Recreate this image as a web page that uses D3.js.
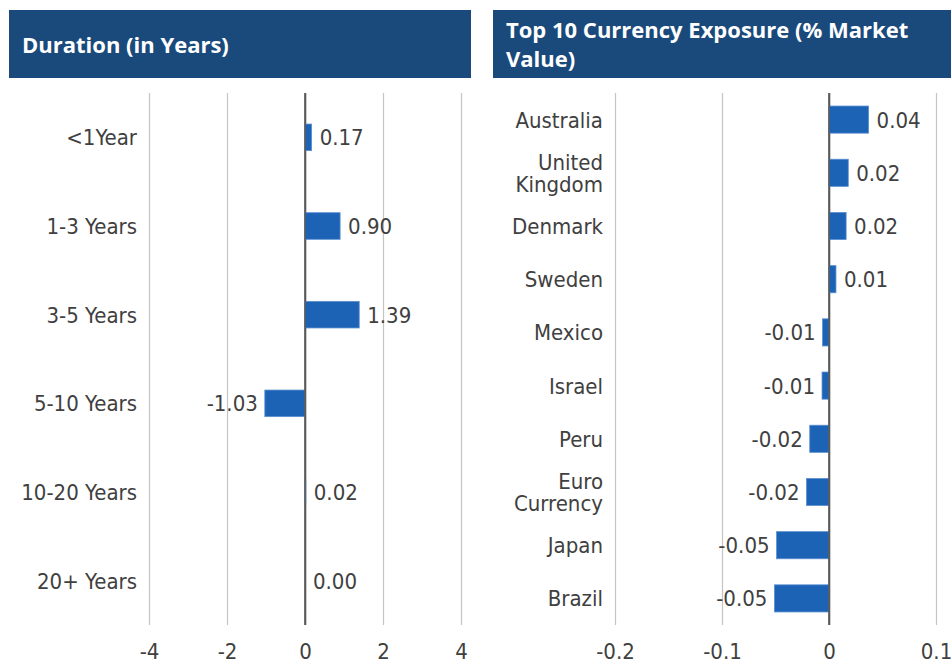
<!DOCTYPE html>
<html>
<head>
<meta charset="utf-8">
<script src="https://cdn.jsdelivr.net/npm/d3@7"></script>
<style>
  body { margin: 0; background: #fff; }
  svg text { font-family: "Liberation Sans Narrow", "DejaVu Sans Condensed", sans-serif; fill: #404040; }
  .title { font-family: "Open Sans", "Noto Sans", sans-serif !important; font-weight: bold; fill: #fff !important; }
</style>
</head>
<body>
<script>
// duration buckets
const durationCats = ["<1Year", "1-3 Years", "3-5 Years", "5-10 Years", "10-20 Years", "20+ Years"];
const durationVals = [0.17, 0.90, 1.39, -1.03, 0.02, 0.00];
const durationTicks = [-4, -2, 0, 2, 4];

// currency exposure
const currencyCats = ["Australia", "United Kingdom", "Denmark", "Sweden", "Mexico", "Israel", "Peru", "Euro Currency", "Japan", "Brazil"];
const currencyVals = [0.037, 0.018, 0.016, 0.0065, -0.006, -0.0065, -0.018, -0.021, -0.049, -0.051];
const currencyTicks = [-0.2, -0.1, 0, 0.1];

const barColor = "#1c63b6";
const headColor = "#1a4a7b";

const svg = d3.select("body").append("svg")
    .attr("width", 951)
    .attr("height", 663);

function panel(opt) {
    // header box
    svg.append("rect")
        .attr("x", opt.boxX).attr("y", 10)
        .attr("width", opt.boxW).attr("height", 68)
        .attr("fill", headColor);
    let t = svg.append("text")
        .attr("class", "title")
        .attr("x", opt.boxX + 13)
        .style("font-size", "22px");
    opt.title.forEach((line, i) => {
        t.append("tspan")
            .attr("x", opt.boxX + 13)
            .attr("y", opt.titleY + i * 29)
            .text(line);
    });

    const x = d3.scaleLinear().domain(opt.domain).range(opt.xRange);
    const y = d3.scaleBand().domain(opt.cats)
        .range([93, 625])
        .paddingInner(opt.pad).paddingOuter(opt.pad / 2);

    // vertical grid lines
    svg.append("g")
        .attr("transform", "translate(0,625)")
        .call(d3.axisBottom(x).tickValues(opt.ticks).tickSize(-532).tickFormat(""))
        .call(g => g.select(".domain").remove())
        .call(g => g.selectAll(".tick line")
            .attr("stroke", d => d === 0 ? "#595959" : "#c4c4c4")
            .attr("stroke-width", d => d === 0 ? 1.6 : 1.2));

    // tick labels (plain hyphen for negatives)
    svg.append("g")
        .attr("transform", "translate(0,625)")
        .call(d3.axisBottom(x).tickValues(opt.ticks).tickSize(0).tickPadding(18).tickFormat(d => String(d)))
        .call(g => g.select(".domain").remove())
        .call(g => g.selectAll("text").style("font-size", "22px").attr("fill", "#404040"));

    // bars
    const data = opt.cats.map((c, i) => ({cat: c, v: opt.vals[i]}));
    svg.append("g").selectAll("rect")
        .data(data)
        .join("rect")
        .attr("x", d => x(Math.min(0, d.v)))
        .attr("y", d => y(d.cat))
        .attr("width", d => Math.abs(x(d.v) - x(0)))
        .attr("height", y.bandwidth())
        .attr("fill", barColor)
        .attr("stroke", "#5b8fd0")
        .attr("stroke-width", 0.8);

    // redraw zero line on top of bars
    svg.append("line")
        .attr("x1", x(0)).attr("x2", x(0))
        .attr("y1", 93).attr("y2", 625)
        .attr("stroke", "#595959").attr("stroke-width", 1.6);

    // value labels
    svg.append("g").selectAll("text")
        .data(data)
        .join("text")
        .attr("x", d => d.v < 0 ? x(d.v) - 7 : x(d.v) + 8)
        .attr("y", d => y(d.cat) + y.bandwidth() / 2)
        .attr("dy", "0.36em")
        .attr("text-anchor", d => d.v < 0 ? "end" : "start")
        .style("font-size", "22px")
        .text(d => d.v.toFixed(2));

    // category labels
    const lab = svg.append("g").selectAll("text")
        .data(data)
        .join("text")
        .attr("x", opt.labelX)
        .attr("y", d => y(d.cat) + y.bandwidth() / 2)
        .attr("text-anchor", "end")
        .style("font-size", "22px");
    lab.each(function(d) {
        const words = opt.wrap.includes(d.cat) ? d.cat.split(" ") : [d.cat];
        const el = d3.select(this);
        words.forEach((w, i) => {
            el.append("tspan")
                .attr("x", opt.labelX)
                .attr("dy", i === 0 ? (0.36 - (words.length - 1) * 0.5) + "em" : "1em")
                .text(w);
        });
    });
}

panel({
    boxX: 9, boxW: 462,
    title: ["Duration (in Years)"], titleY: 53,
    cats: durationCats, vals: durationVals, ticks: durationTicks,
    domain: [-4, 4], xRange: [149, 461],
    pad: 0.7, labelX: 137, wrap: []
});

panel({
    boxX: 493, boxW: 458,
    title: ["Top 10 Currency Exposure (% Market", "Value)"], titleY: 38,
    cats: currencyCats, vals: currencyVals, ticks: currencyTicks,
    domain: [-0.2, 0.1], xRange: [615, 936],
    pad: 0.49, labelX: 603, wrap: ["United Kingdom", "Euro Currency"]
});
</script>
</body>
</html>
